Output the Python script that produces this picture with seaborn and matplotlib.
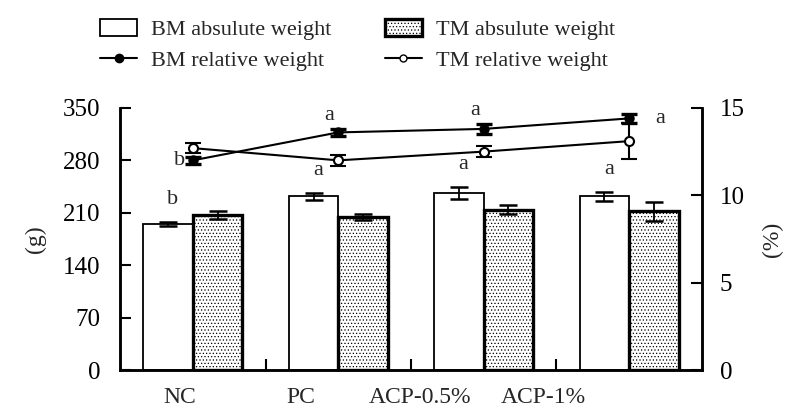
import matplotlib
matplotlib.use("Agg")
import matplotlib.pyplot as plt
from matplotlib.lines import Line2D
from matplotlib.patches import Patch
import seaborn as sns
import pandas as pd
import numpy as np

groups = ["NC", "PC", "ACP-0.5%", "ACP-1%"]

# absolute weight (g)
bm_abs = [195, 232, 236, 232]
bm_abs_err = [3, 5, 8, 6]
tm_abs = [207, 205, 214, 212]
tm_abs_err = [5, 4, 6, 13]

# relative weight (%)
bm_rel = [12.0, 13.6, 13.8, 14.4]
bm_rel_err = [0.2, 0.2, 0.3, 0.25]
tm_rel = [12.7, 12.0, 12.5, 13.1]
tm_rel_err = [0.3, 0.33, 0.33, 1.05]

bar_letters = ["b", "a", "a", "a"]
line_letters = ["b", "a", "a", "a"]

sns.set_style("ticks")
plt.rcParams['font.family'] = ['Liberation Serif', 'DejaVu Serif']
plt.rcParams['hatch.color'] = '#999999'
plt.rcParams['hatch.linewidth'] = 0.5

df = pd.DataFrame({
    "group": groups * 2,
    "kind": ["BM"] * 4 + ["TM"] * 4,
    "weight": bm_abs + tm_abs,
})

fig = plt.figure(figsize=(7.85, 4.2), dpi=100)
ax = fig.add_axes([0.153, 0.119, 0.741, 0.624])

sns.barplot(data=df, x="group", y="weight", hue="kind", ax=ax,
            palette=["white", "white"], width=0.68, errorbar=None,
            edgecolor="black", legend=False)

bars = ax.patches
for p in bars[:4]:
    p.set_linewidth(1.3)
for p in bars[4:8]:
    p.set_linewidth(2.4)
    p.set_hatch('.....')

x = np.arange(len(groups))
w = 0.34
ax.errorbar(x - w / 2, bm_abs, yerr=bm_abs_err, fmt="none", ecolor="black",
            elinewidth=1.3, capsize=6.5, capthick=1.8, zorder=5)
ax.errorbar(x + w / 2, tm_abs, yerr=tm_abs_err, fmt="none", ecolor="black",
            elinewidth=1.3, capsize=6.5, capthick=1.8, zorder=5)

for i, t in enumerate(bar_letters):
    ax.text(i - 0.14, bm_abs[i] + bm_abs_err[i] + 30, t, ha="center",
            va="center", fontsize=16)

ax.set_ylim(0, 350)
ax.set_yticks([0, 70, 140, 210, 280, 350])
ax.set_xlim(-0.5, 3.5)
ax.set_xticks([0.5, 1.5, 2.5])
ax.set_xticklabels([])
ax.tick_params(axis="both", direction="in", length=8, width=1.5,
               labelsize=18, colors="black")
ax.tick_params(axis="y", pad=14)
ax.set_xlabel("")
ax.set_ylabel("(g)", fontsize=17, labelpad=12)
for s in ["left", "bottom", "right"]:
    ax.spines[s].set_linewidth(1.8)
    ax.spines[s].set_color("black")
ax.spines["top"].set_visible(False)

label_shift = [-0.09, -0.26, -0.44, -0.59]
for i, g in enumerate(groups):
    ax.text(i + label_shift[i], -0.103, g, transform=ax.get_xaxis_transform(),
            ha="center", va="center", fontsize=17)

ax2 = ax.twinx()
ax2.errorbar(x, bm_rel, yerr=bm_rel_err, color="black", lw=1.5, marker="o",
             markersize=6.5, mfc="black", mec="black", capsize=6,
             capthick=2.4, elinewidth=1.5, zorder=6)
ax2.errorbar(x, tm_rel, yerr=tm_rel_err, color="black", lw=1.5, marker="o",
             markersize=6.5, mfc="white", mec="black", mew=1.5, capsize=6,
             capthick=2.4, elinewidth=1.5, zorder=6)
ax2.set_ylim(0, 15)
ax2.set_yticks([0, 5, 10, 15])
ax2.tick_params(axis="y", direction="in", length=8, width=1.5,
                labelsize=18, pad=13, colors="black")
ax2.set_ylabel("(%)", fontsize=17, labelpad=12)
ax2.spines["top"].set_visible(False)
for s in ["left", "bottom", "right"]:
    ax2.spines[s].set_linewidth(1.8)
    ax2.spines[s].set_color("black")

ax2.text(-0.05, bm_rel[0], line_letters[0], ha="right", va="center", fontsize=16)
for i in [1, 2]:
    ax2.text(i - 0.06, bm_rel[i] + bm_rel_err[i] + 0.75, line_letters[i],
             ha="center", va="center", fontsize=16)
ax2.text(3.18, bm_rel[3], line_letters[3], ha="left", va="center", fontsize=16)

handles = [
    Patch(facecolor="white", edgecolor="black", linewidth=1.3),
    Line2D([], [], color="black", lw=1.5, marker="o", markersize=6,
           mfc="black", mec="black"),
    Patch(facecolor="white", edgecolor="black", linewidth=2.4, hatch="....."),
    Line2D([], [], color="black", lw=1.5, marker="o", markersize=5,
           mfc="white", mec="black"),
]
labels = ["BM absulute weight", "BM relative weight",
          "TM absulute weight", "TM relative weight"]
fig.legend(handles, labels, ncol=2, frameon=False, fontsize=16,
           loc="upper left", bbox_to_anchor=(0.127, 0.955),
           borderpad=0, borderaxespad=0,
           handlelength=1.7, handleheight=0.8, handletextpad=0.6,
           columnspacing=2.4, labelspacing=0.45)

fig.savefig("out.png", dpi=100)
